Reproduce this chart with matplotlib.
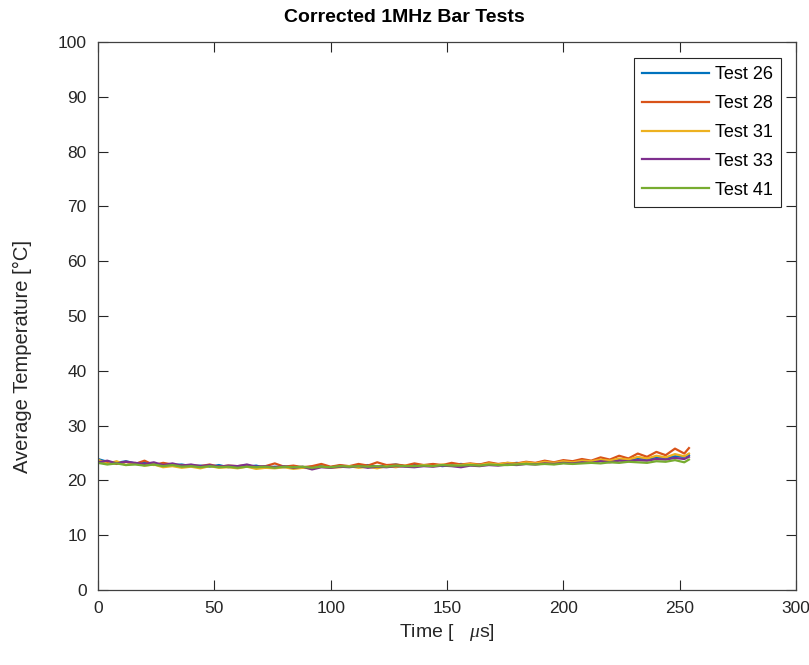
import numpy as np
import matplotlib.pyplot as plt

plt.rcParams["font.family"] = ["Liberation Sans", "DejaVu Sans"]
plt.rcParams["mathtext.fontset"] = "custom"
plt.rcParams["mathtext.it"] = "Liberation Serif:italic"

# tempo em microssegundos
tempo = [0, 4, 8, 12, 16, 20, 24, 28, 32, 36,
         40, 44, 48, 52, 56, 60, 64, 68, 72, 76,
         80, 84, 88, 92, 96, 100, 104, 108, 112, 116,
         120, 124, 128, 132, 136, 140, 144, 148, 152, 156,
         160, 164, 168, 172, 176, 180, 184, 188, 192, 196,
         200, 204, 208, 212, 216, 220, 224, 228, 232, 236,
         240, 244, 248, 252, 254]

teste26 = [23.9, 23.4, 23.2, 23.5, 23.1, 23.3, 22.9, 23.0, 22.8, 22.9,
           22.6, 22.7, 22.5, 22.8, 22.4, 22.6, 22.5, 22.7, 22.3, 22.5,
           22.4, 22.6, 22.3, 22.5, 22.6, 22.4, 22.7, 22.5, 22.6, 22.8,
           22.5, 22.7, 22.9, 22.6, 22.8, 22.7, 22.9, 22.6, 22.8, 23.0,
           22.8, 22.9, 23.1, 22.9, 23.0, 23.2, 23.0, 23.1, 23.3, 23.2,
           23.4, 23.2, 23.5, 23.3, 23.6, 23.5, 23.8, 23.7, 24.0, 23.9,
           24.2, 24.1, 24.4, 24.3, 24.6]

teste28 = [23.6, 23.3, 23.0, 23.4, 23.0, 23.6, 22.8, 23.2, 22.9, 22.7,
           22.8, 22.6, 22.9, 22.5, 22.7, 22.6, 22.8, 22.4, 22.6, 23.1,
           22.5, 22.7, 22.4, 22.6, 23.0, 22.5, 22.8, 22.6, 23.0, 22.7,
           23.3, 22.8, 22.9, 22.7, 23.1, 22.8, 23.0, 22.8, 23.2, 22.9,
           23.1, 22.9, 23.3, 23.0, 23.2, 23.1, 23.4, 23.2, 23.6, 23.3,
           23.7, 23.5, 23.9, 23.6, 24.2, 23.8, 24.5, 24.0, 24.9, 24.3,
           25.2, 24.6, 25.8, 24.9, 25.9]

teste31 = [23.8, 23.0, 23.5, 22.8, 23.2, 22.7, 22.9, 22.4, 22.6, 22.3,
           22.5, 22.2, 22.6, 22.3, 22.4, 22.2, 22.5, 22.1, 22.3, 22.2,
           22.4, 22.1, 22.3, 22.2, 22.5, 22.3, 22.4, 22.6, 22.3, 22.5,
           22.2, 22.6, 22.4, 22.7, 22.5, 22.8, 22.6, 22.9, 22.7, 22.8,
           23.0, 22.8, 23.1, 22.9, 23.2, 23.0, 23.3, 23.1, 23.4, 23.2,
           23.5, 23.3, 23.6, 23.5, 23.8, 23.6, 24.0, 23.8, 24.3, 24.0,
           24.5, 24.2, 24.8, 24.4, 24.9]

teste33 = [23.3, 23.6, 23.1, 23.4, 23.2, 23.0, 23.3, 22.8, 23.1, 22.7,
           22.9, 22.6, 22.8, 22.5, 22.7, 22.6, 22.9, 22.5, 22.6, 22.4,
           22.6, 22.3, 22.5, 22.0, 22.4, 22.3, 22.5, 22.4, 22.6, 22.3,
           22.5, 22.4, 22.6, 22.5, 22.4, 22.6, 22.5, 22.7, 22.6, 22.4,
           22.7, 22.6, 22.8, 22.7, 22.9, 22.8, 23.0, 22.9, 23.1, 23.0,
           23.2, 23.1, 23.3, 23.2, 23.5, 23.3, 23.6, 23.5, 23.7, 23.6,
           23.9, 23.8, 24.1, 23.9, 24.3]

teste41 = [23.2, 22.9, 23.1, 22.8, 22.9, 22.7, 22.9, 22.6, 22.8, 22.5,
           22.6, 22.4, 22.6, 22.4, 22.5, 22.3, 22.5, 22.4, 22.5, 22.3,
           22.5, 22.4, 22.5, 22.3, 22.5, 22.4, 22.6, 22.5, 22.6, 22.5,
           22.6, 22.5, 22.7, 22.6, 22.6, 22.7, 22.6, 22.8, 22.7, 22.7,
           22.8, 22.7, 22.9, 22.8, 22.8, 22.9, 23.0, 22.9, 23.0, 22.9,
           23.1, 23.0, 23.1, 23.2, 23.1, 23.3, 23.2, 23.4, 23.3, 23.2,
           23.5, 23.4, 23.7, 23.3, 23.8]

nomes = ["Test 26", "Test 28", "Test 31", "Test 33", "Test 41"]
series = [teste26, teste28, teste31, teste33, teste41]
cores = ["#0072BD", "#D95319", "#EDB120", "#7E2F8E", "#77AC30"]

cinza = "#262626"

fig = plt.figure(figsize=(8.09, 6.65), dpi=100)
ax = fig.add_axes([0.1211, 0.1128, 0.8628, 0.824])

for valores, nome, cor in zip(series, nomes, cores):
    ax.plot(tempo, valores, color=cor, linewidth=1.6, label=nome)

ax.set_xlim(0, 300)
ax.set_ylim(0, 100)
ax.set_xticks(np.arange(0, 301, 50))
ax.set_yticks(np.arange(0, 101, 10))
ax.tick_params(direction="in", top=True, right=True, length=7, width=0.8,
               labelsize=12.5, colors=cinza, pad=8)
for s in ax.spines.values():
    s.set_color("#404040")
    s.set_linewidth(0.9)

# titulo levemente deslocado para a esquerda, como no original
fig.text(404 / 809, 1 - 18 / 665, "Corrected 1MHz Bar Tests", fontsize=14,
         fontweight="bold", ha="center", va="center", color="black")

ax.set_xlabel(r"Time [   $\mu$s]", fontsize=14, color=cinza)
ax.xaxis.set_label_coords(0.5, -0.058)
ax.set_ylabel("Average Temperature [°C]", fontsize=14.5, color=cinza)
ax.yaxis.set_label_coords(-0.094, 0.427)

leg = ax.legend(loc="upper right", bbox_to_anchor=(0.9785, 0.971), fontsize=13,
                handlelength=3.7, handletextpad=0.35, labelspacing=0.66,
                fancybox=False, edgecolor=cinza, framealpha=1,
                borderpad=0.45, borderaxespad=0)
leg.get_frame().set_linewidth(0.8)

plt.savefig("out.png", dpi=100)
plt.close()
